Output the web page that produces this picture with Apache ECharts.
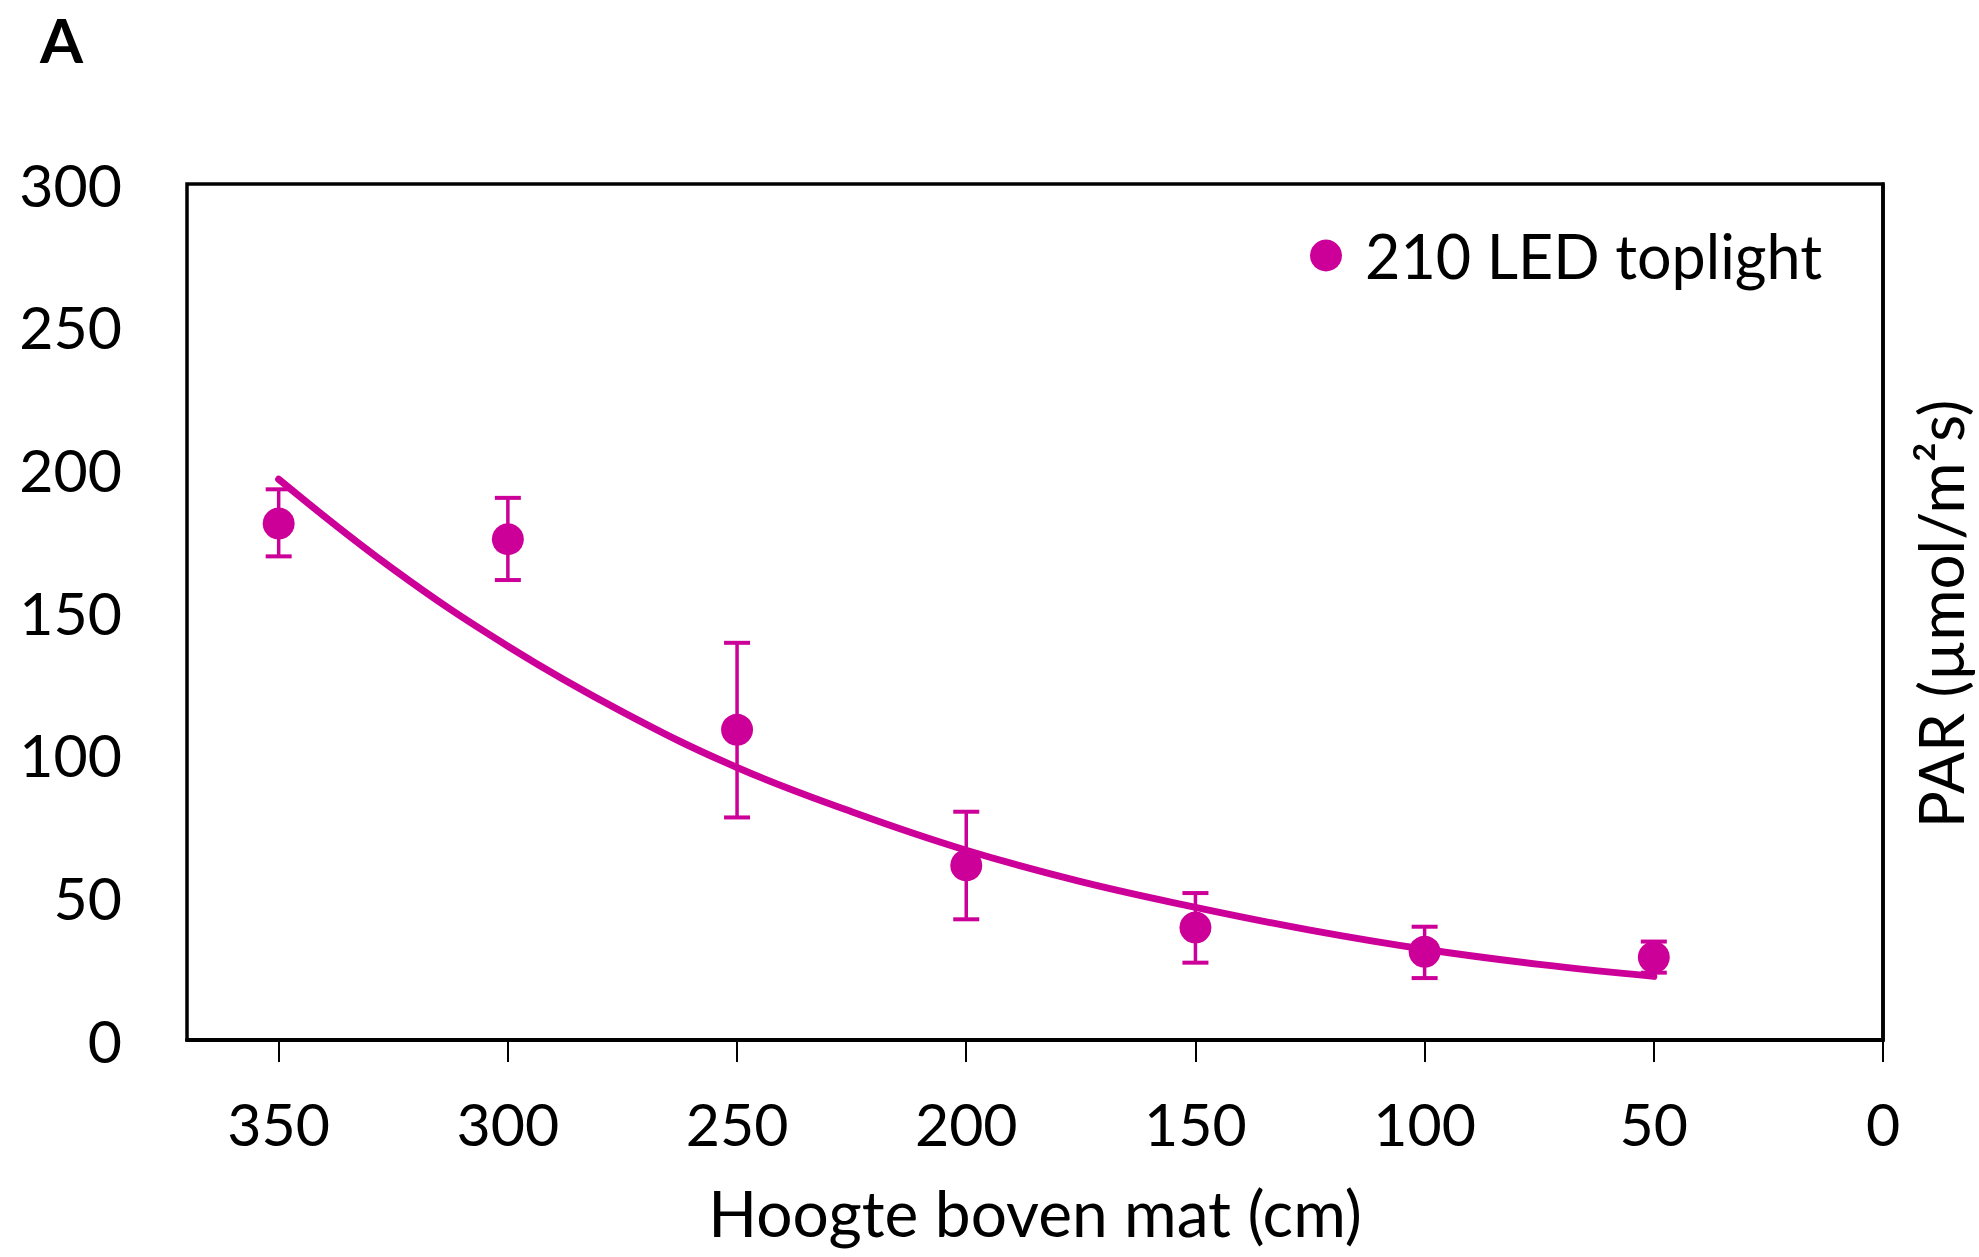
<!DOCTYPE html>
<html>
<head>
<meta charset="utf-8">
<script src="https://cdn.jsdelivr.net/npm/echarts@6/dist/echarts.min.js"></script>
<style>
html, body { margin: 0; background: #fff; }
#chart { width: 1979px; height: 1257px; }
</style>
</head>
<body>
<div id="chart"></div>
<script>
// meetpunten: hoogte boven mat (cm) en PAR met foutbalken
const heights = [350, 300, 250, 200, 150, 100, 50]
const parMean = [181, 175.5, 108.7, 61.2, 39.4, 30.9, 29]
const parHigh = [193, 190, 139.2, 80, 51.5, 39.7, 34.5]
const parLow = [169.5, 161.2, 78, 42.3, 27.1, 21.7, 23.6]

// trendlijn
const fitHeights = [350, 325, 300, 275, 250, 225, 200, 175, 150, 125, 100, 75, 50]
const fitValues = [196.5, 165, 138, 115, 95.5, 80, 66.5, 55.5, 46.5, 38.5, 31.8, 26.5, 22.3]

const xTicks = [0, 50, 100, 150, 200, 250, 300, 350]
const seriesName = '210 LED toplight'

const magenta = '#cc0099'
const font = 'Lato'

const chart = echarts.init(document.getElementById('chart'), null, { renderer: 'svg' })

chart.setOption({
  backgroundColor: '#fff',
  animation: false,
  textStyle: { fontFamily: font, color: '#000' },
  grid: {
    left: 187,
    right: 96,
    top: 184,
    bottom: 217,
    outerBoundsMode: 'none',
    containLabel: false,
    show: true,
    borderColor: '#000',
    borderWidth: 3.5
  },
  legend: {
    data: [seriesName],
    left: 1305,
    top: 220,
    icon: 'circle',
    itemWidth: 32,
    itemHeight: 32,
    itemStyle: { opacity: 1 },
    textStyle: {
      fontFamily: font,
      fontSize: 61,
      color: '#000',
      padding: [0, 0, 0, 18]
    }
  },
  xAxis: {
    type: 'value',
    inverse: true,
    min: 0,
    max: 370,
    interval: 50,
    name: 'Hoogte boven mat (cm)',
    nameLocation: 'middle',
    nameGap: 140,
    nameTextStyle: { fontFamily: font, fontSize: 64, color: '#000' },
    axisLine: { show: true, onZero: false, lineStyle: { color: '#000', width: 4 } },
    axisTick: {
      show: true,
      inside: false,
      length: 22,
      customValues: xTicks,
      lineStyle: { color: '#000', width: 2 }
    },
    axisLabel: {
      customValues: xTicks,
      margin: 54,
      fontFamily: font,
      fontSize: 59,
      color: '#000'
    },
    splitLine: { show: false }
  },
  yAxis: {
    type: 'value',
    min: 0,
    max: 300,
    interval: 50,
    axisLine: { show: true, lineStyle: { color: '#000', width: 3.5 } },
    axisTick: { show: false },
    axisLabel: {
      margin: 65,
      fontFamily: font,
      fontSize: 59,
      color: '#000'
    },
    splitLine: { show: false }
  },
  graphic: [
    {
      type: 'text',
      left: 40,
      top: 8,
      style: { text: 'A', fontFamily: font, fontWeight: 'bold', fontSize: 62, fill: '#000' }
    },
    {
      type: 'text',
      x: 1940,
      y: 614,
      rotation: Math.PI / 2,
      style: {
        text: 'PAR (µmol/m²s)',
        fontFamily: font,
        fontSize: 62,
        fill: '#000',
        align: 'center',
        verticalAlign: 'middle'
      }
    }
  ],
  series: [
    {
      type: 'custom',
      name: 'foutbalk',
      data: heights.map((h, i) => [h, parHigh[i], parLow[i]]),
      renderItem(params, api) {
        const x = api.value(0)
        const hi = api.coord([x, api.value(1)])
        const lo = api.coord([x, api.value(2)])
        const half = 13
        return {
          type: 'group',
          children: [
            { type: 'line', shape: { x1: hi[0], y1: hi[1], x2: lo[0], y2: lo[1] }, style: { stroke: magenta, lineWidth: 3.5 } },
            { type: 'line', shape: { x1: hi[0] - half, y1: hi[1], x2: hi[0] + half, y2: hi[1] }, style: { stroke: magenta, lineWidth: 4 } },
            { type: 'line', shape: { x1: lo[0] - half, y1: lo[1], x2: lo[0] + half, y2: lo[1] }, style: { stroke: magenta, lineWidth: 4 } }
          ]
        }
      },
      z: 2
    },
    {
      type: 'scatter',
      name: seriesName,
      data: heights.map((h, i) => [h, parMean[i]]),
      symbol: 'circle',
      symbolSize: 32,
      itemStyle: { color: magenta, opacity: 1 },
      z: 3
    },
    {
      type: 'line',
      name: 'trend',
      data: fitHeights.map((h, i) => [h, fitValues[i]]),
      smooth: 0.4,
      showSymbol: false,
      lineStyle: { color: magenta, width: 7, cap: 'round' },
      z: 4
    }
  ]
})
</script>
</body>
</html>
